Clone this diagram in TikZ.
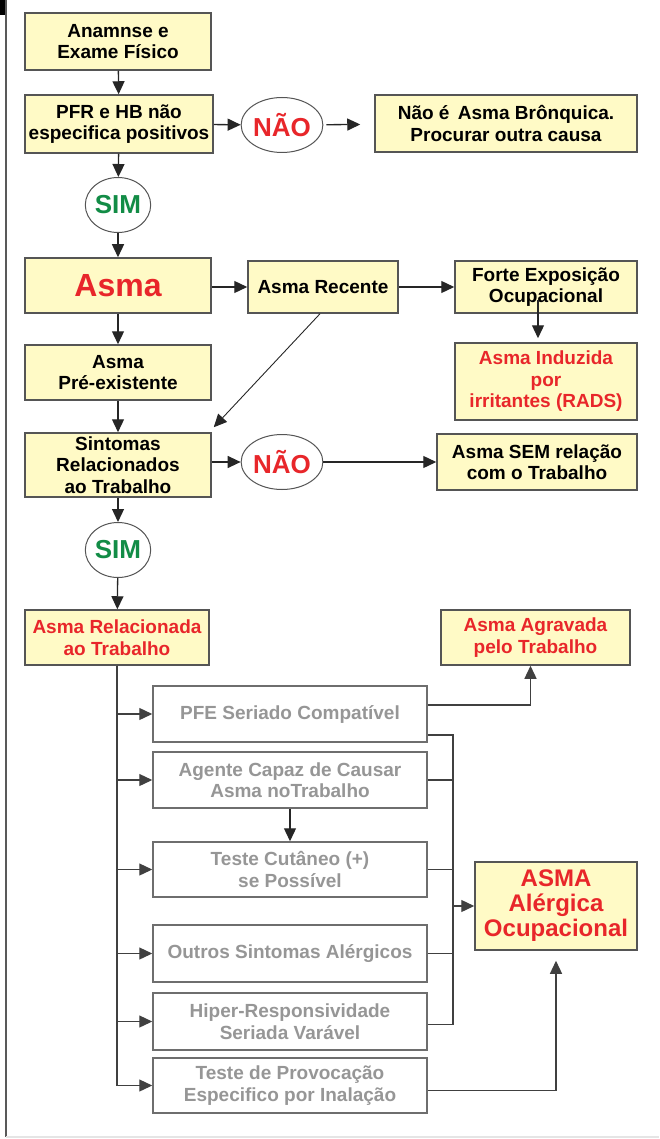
\documentclass[tikz,border=0pt]{standalone}
\usepackage{fontspec}
\setmainfont{Liberation Sans}
\usetikzlibrary{arrows.meta, positioning, shapes.geometric, shadows}

\definecolor{amarelo}{RGB}{255,250,198}
\definecolor{borda}{RGB}{85,85,85}
\definecolor{vermelho}{RGB}{232,38,42}
\definecolor{verde}{RGB}{18,140,70}
\definecolor{cinzatxt}{RGB}{150,150,150}
\definecolor{cinzaborda}{RGB}{110,110,110}

\begin{document}
\begin{tikzpicture} [x=1pt, y=-1pt,
    caixa/.style = {draw=borda, line width=1.5pt, fill=amarelo, align=center,
        drop shadow={shadow xshift=0.8pt, shadow yshift=-0.8pt, opacity=0.35},
        font=\fontsize{19}{21.5}\selectfont\bfseries, inner sep=0pt},
    cinza/.style = {draw=cinzaborda, line width=1.5pt, fill=white, align=center, inner sep=0pt,
        text=cinzatxt, minimum width=274pt, font=\fontsize{19}{21.5}\selectfont\bfseries},
    decisao/.style = {ellipse, draw=borda, line width=1pt, fill=white, inner sep=0pt,
        minimum width=65pt, minimum height=55pt, font=\fontsize{26}{26}\selectfont\bfseries},
    seta/.style = {-{Triangle[length=13pt, width=12pt]}, line width=1.3pt, color=black!85}]

    \useasboundingbox (0,0) rectangle (659,1139);
    % moldura
    \fill[black] (0,0) rectangle (7,15);
    \draw[line width=2pt, black!65] (6,0) -- (6,1137);
    \draw[line width=1.5pt, black!10] (6,1137) -- (659,1137);

    % coluna principal
    \node (anamnese) [caixa, minimum width=186pt, minimum height=57pt] at (118,41.5) {Anamnse e\\Exame Físico};
    \node (pfr) [caixa, minimum width=188pt, minimum height=58pt] at (119,124) {PFR e HB não\\especifica positivos};
    \node (nao1) [decisao, text=vermelho] at (282,125) {NÃO};
    \node (naoasma) [caixa, minimum width=262pt, minimum height=57pt] at (506,123.5) {Não é\, Asma Brônquica.\\Procurar outra causa};
    \node (sim1) [decisao, text=verde] at (118,205) {SIM};
    \node (asma) [caixa, minimum width=186pt, minimum height=55pt, text=vermelho,
        font=\fontsize{32}{32}\selectfont\bfseries] at (118,285.5) {Asma};
    \node (recente) [caixa, minimum width=150pt, minimum height=52pt] at (323,287) {Asma Recente};
    \node (forte) [caixa, minimum width=182pt, minimum height=52pt] at (546,287) {Forte Exposição\\Ocupacional};
    \node (induzida) [caixa, minimum width=182pt, minimum height=77pt, text=vermelho] at (546,381.5) {Asma Induzida\\por\\irritantes (RADS)};
    \node (preexist) [caixa, minimum width=186pt, minimum height=55pt] at (118,372.5) {Asma\\Pré-existente};
    \node (sintomas) [caixa, minimum width=186pt, minimum height=64pt] at (118,465) {Sintomas\\Relacionados\\ao Trabalho};
    \node (nao2) [decisao, text=vermelho] at (282,462) {NÃO};
    \node (semrel) [caixa, minimum width=200pt, minimum height=56pt] at (537,462) {Asma SEM relação\\com o Trabalho};
    \node (sim2) [decisao, text=verde] at (118,550) {SIM};
    \node (relac) [caixa, minimum width=184pt, minimum height=55pt, text=vermelho] at (117,637.5) {Asma Relacionada\\ao Trabalho};
    \node (agravada) [caixa, minimum width=189pt, minimum height=55pt, text=vermelho] at (535.5,637.5) {Asma Agravada\\pelo Trabalho};

    % criterios
    \node (pfe) [cinza, minimum height=56pt] at (290,714) {PFE Seriado Compatível};
    \node (agente) [cinza, minimum height=56pt] at (290,780) {Agente Capaz de Causar\\Asma noTrabalho};
    \node (cutaneo) [cinza, minimum height=55pt] at (290,869.5) {Teste Cutâneo (+)\\se Possível};
    \node (outros) [cinza, minimum height=57pt] at (290,953.5) {Outros Sintomas Alérgicos};
    \node (hiper) [cinza, minimum height=57pt] at (290,1021.5) {Hiper-Responsividade\\Seriada Varável};
    \node (provoc) [cinza, minimum height=55pt] at (290,1085.5) {Teste de Provocação\\Especifico por Inalação};
    \node (alergica) [caixa, minimum width=162pt, minimum height=88pt, text=vermelho,
        font=\fontsize{24}{25}\selectfont\bfseries] at (556,906) {ASMA\\Alérgica\\Ocupacional};
    \coordinate (barra) at (453,906);

    % ligacoes
    \path[seta] (anamnese) edge (pfr);
    \path[seta] (pfr) edge (nao1);
    \path[seta] (nao1) edge [shorten <=3pt, shorten >=14pt] (naoasma);
    \path[seta] (pfr) edge (sim1);
    \path[seta] (sim1) edge (asma);
    \draw[seta] (asma.east |- recente) -- (recente);
    \path[seta] (recente) edge (forte);
    \draw[seta] ([xshift=-8pt, yshift=-13pt]forte.center) -- ([xshift=-8pt, yshift=4pt]induzida.north);
    \path[seta] (asma) edge (preexist);
    \path[seta] (preexist) edge (sintomas);
    \draw[seta, line width=0.9pt] ([xshift=-3pt]recente.south) -- ([xshift=2pt, yshift=5pt]sintomas.north east);
    \draw[seta] (sintomas.east |- nao2) -- (nao2);
    \path[seta] (nao2) edge (semrel);
    \path[seta] (sintomas) edge (sim2);
    \path[seta] (sim2) edge (relac);

    \foreach \crit in {pfe, agente, cutaneo, outros, hiper, provoc}
        \draw[seta, color=black!75] (relac.south) |- (\crit.west);
    \draw[seta, color=black!75] ([yshift=9pt]pfe.east) -| ([xshift=-5pt]agravada.south);
    \draw[line width=1.3pt, black!75] ([yshift=-21pt]pfe.east) -| (barra);
    \foreach \crit in {agente, cutaneo, outros}
        \draw[line width=1.3pt, black!75] (\crit.east) -| (barra);
    \draw[line width=1.3pt, black!75] ([yshift=-3pt]hiper.east) -| (barra);
    \draw[seta, color=black!75] (barra) -- (alergica.west);
    \path[seta] (agente) edge (cutaneo);
    \draw[seta, color=black!75, shorten >=10pt] ([yshift=-5pt]provoc.east) -| (alergica.south);
\end{tikzpicture}
\end{document}
